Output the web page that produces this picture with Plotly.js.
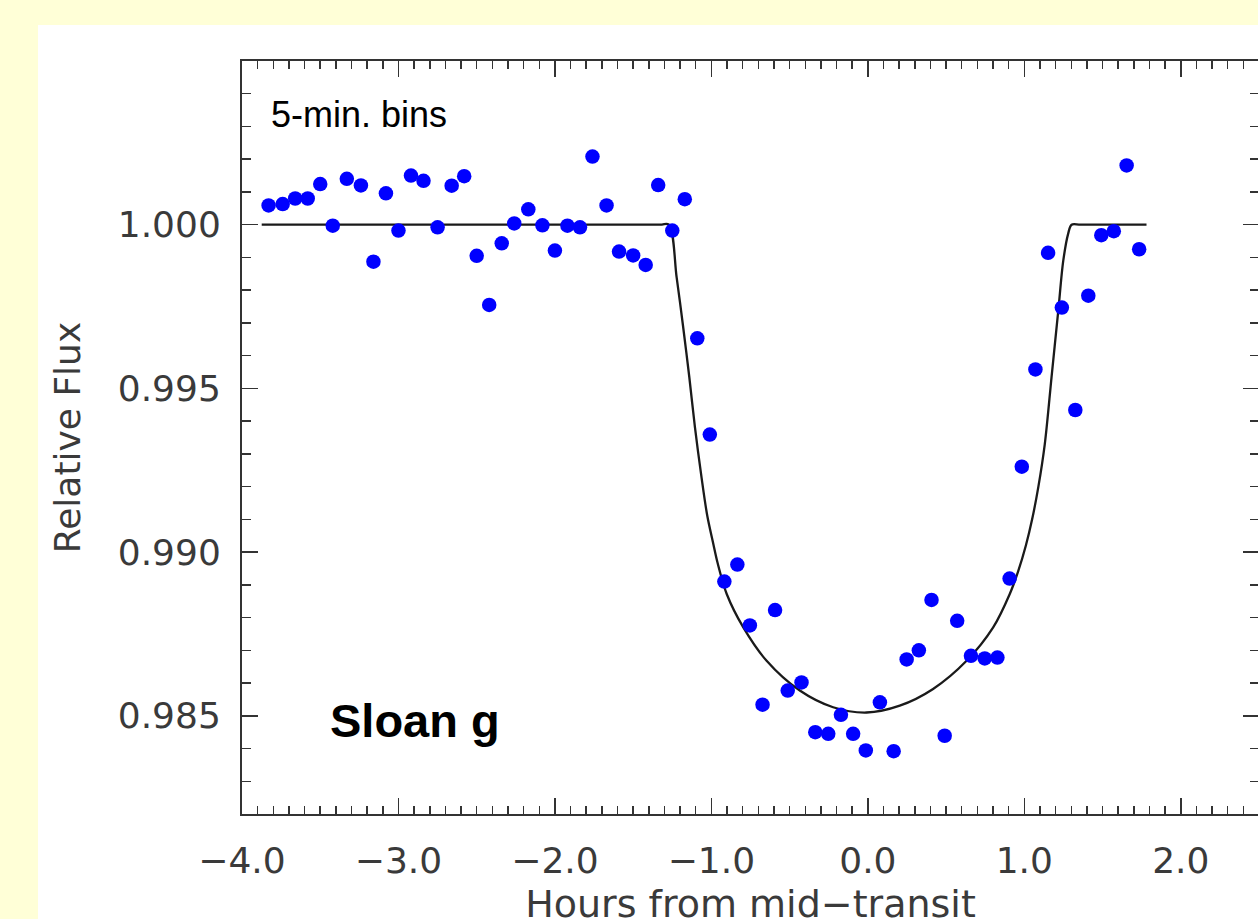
<!DOCTYPE html>
<html>
<head>
<meta charset="utf-8">
<script src="https://cdn.plot.ly/plotly-3.0.1.min.js"></script>
<style>
  html, body { margin: 0; padding: 0; width: 1258px; height: 919px; overflow: hidden; background: #FFFFD7; }
  #panel { position: absolute; left: 38px; top: 25px; width: 1230px; height: 920px; background: #FFFFFF; }
  #chart { position: absolute; left: 0; top: 0; width: 1260px; height: 945px; }
</style>
</head>
<body>
<div id="panel"></div>
<div id="chart"></div>
<script>
// Binned photometry (5-min bins): hours from mid-transit and relative flux
const hours = [
  -3.83, -3.74, -3.66, -3.58, -3.50, -3.42, -3.33, -3.24, -3.16, -3.08,
  -3.00, -2.92, -2.84, -2.75, -2.66, -2.58, -2.50, -2.42, -2.34, -2.26,
  -2.17, -2.08, -2.00, -1.92, -1.84, -1.76, -1.67, -1.59, -1.50, -1.42,
  -1.34, -1.25, -1.17, -1.09, -1.01, -0.917, -0.834, -0.754, -0.673, -0.593,
  -0.512, -0.424, -0.336, -0.253, -0.172, -0.094, -0.013, 0.077, 0.165, 0.248,
  0.326, 0.407, 0.491, 0.571, 0.659, 0.747, 0.828, 0.906, 0.984, 1.071,
  1.152, 1.240, 1.326, 1.409, 1.492, 1.572, 1.654, 1.734
];
const flux = [
  1.00059, 1.00063, 1.00080, 1.00080, 1.00124, 0.99997, 1.00140, 1.00120, 0.99887, 1.00096,
  0.99982, 1.00150, 1.00134, 0.99992, 1.00119, 1.00148, 0.99905, 0.99755, 0.99943, 1.00004,
  1.00047, 0.99998, 0.99921, 0.99997, 0.99992, 1.00208, 1.00059, 0.99918, 0.99906, 0.99877,
  1.00121, 0.99982, 1.00078, 0.99653, 0.99359, 0.98910, 0.98962, 0.98776, 0.98534, 0.98823,
  0.98577, 0.98602, 0.98450, 0.98445, 0.98503, 0.98445, 0.98394, 0.98541, 0.98392, 0.98672,
  0.98700, 0.98854, 0.98439, 0.98790, 0.98683, 0.98675, 0.98678, 0.98919, 0.99261, 0.99558,
  0.99914, 0.99747, 0.99434, 0.99783, 0.99968, 0.99980, 1.00181, 0.99925
];

// Transit model curve
const modelHours = [
  -3.874, -1.330, -1.272, -1.222, -1.180, -1.141, -1.105, -1.063, -1.026, -0.990,
  -0.961, -0.902, -0.796, -0.647, -0.435, -0.222, -0.008, 0.204, 0.417, 0.631,
  0.801, 0.907, 0.960, 1.010, 1.050, 1.090, 1.131, 1.174, 1.217, 1.249,
  1.280, 1.302, 1.360, 1.781
];
const modelFlux = [
  1.00000, 1.00000, 1.00000, 0.99839, 0.99686, 0.99534, 0.99381, 0.99228, 0.99110, 0.99030,
  0.98968, 0.98872, 0.98770, 0.98668, 0.98577, 0.98526, 0.98510, 0.98531, 0.98582, 0.98668,
  0.98770, 0.98872, 0.98940, 0.99020, 0.99100, 0.99200, 0.99330, 0.99534, 0.99737, 0.99890,
  0.99972, 1.00000, 1.00000, 1.00000
];

const xTickVals = [-4, -3, -2, -1, 0, 1, 2];
const xTickText = ['\u22124.0', '\u22123.0', '\u22122.0', '\u22121.0', '0.0', '1.0', '2.0'];
const yTickVals = [0.985, 0.990, 0.995, 1.000];
const yTickText = ['0.985', '0.990', '0.995', '1.000'];

const axisColor = '#333333';
const tickFont = { family: 'DejaVu Sans', size: 36, color: '#3a3a3a' };

const data = [
  {
    x: modelHours, y: modelFlux, type: 'scatter', mode: 'lines',
    line: { color: '#1a1a1a', width: 2.3, shape: 'spline', smoothing: 0.9 },
    hoverinfo: 'skip'
  },
  {
    x: hours, y: flux, type: 'scatter', mode: 'markers',
    marker: { color: '#0000FF', size: 14.5 }
  }
];

const layout = {
  width: 1260, height: 945,
  margin: { l: 242, r: 1, t: 61, b: 131, pad: 0 },
  paper_bgcolor: 'rgba(0,0,0,0)',
  plot_bgcolor: 'rgba(0,0,0,0)',
  showlegend: false,
  xaxis: {
    range: [-4, 2.5],
    tickmode: 'array', tickvals: xTickVals, ticktext: xTickText,
    ticks: 'inside', ticklen: 16, tickwidth: 1.5, tickcolor: axisColor,
    minor: { dtick: 0.1, tick0: 0, ticks: 'inside', ticklen: 8, tickwidth: 1.5, tickcolor: axisColor, showgrid: false },
    showline: true, linecolor: axisColor, linewidth: 2, mirror: 'allticks',
    showgrid: false, zeroline: false,
    tickfont: tickFont, ticklabelstandoff: 14,
    title: { text: 'Hours from mid\u2212transit', font: { family: 'DejaVu Sans', size: 38, color: '#3a3a3a' }, standoff: 10 }
  },
  yaxis: {
    range: [0.982, 1.005],
    tickmode: 'array', tickvals: yTickVals, ticktext: yTickText,
    ticks: 'inside', ticklen: 16, tickwidth: 1.5, tickcolor: axisColor,
    minor: { dtick: 0.001, tick0: 1.0, ticks: 'inside', ticklen: 9, tickwidth: 1.5, tickcolor: axisColor, showgrid: false },
    showline: true, linecolor: axisColor, linewidth: 2, mirror: 'allticks',
    showgrid: false, zeroline: false,
    tickfont: tickFont, ticklabelstandoff: 12,
    title: { text: 'Relative Flux', font: { family: 'DejaVu Sans', size: 36, color: '#3a3a3a' }, standoff: 26 }
  },
  annotations: [
    {
      x: -3.825, y: 1.00336, xref: 'x', yref: 'y', xanchor: 'left', yanchor: 'middle',
      text: '5-min. bins', showarrow: false,
      font: { family: 'Liberation Sans, Arial', size: 36, color: '#000000' }
    },
    {
      x: -3.45, y: 0.98485, xref: 'x', yref: 'y', xanchor: 'left', yanchor: 'middle',
      text: '<b>Sloan g</b>', showarrow: false,
      font: { family: 'Liberation Sans, Arial', size: 47, color: '#000000' }
    }
  ]
};

Plotly.newPlot('chart', data, layout, { staticPlot: true, displayModeBar: false });
</script>
</body>
</html>
